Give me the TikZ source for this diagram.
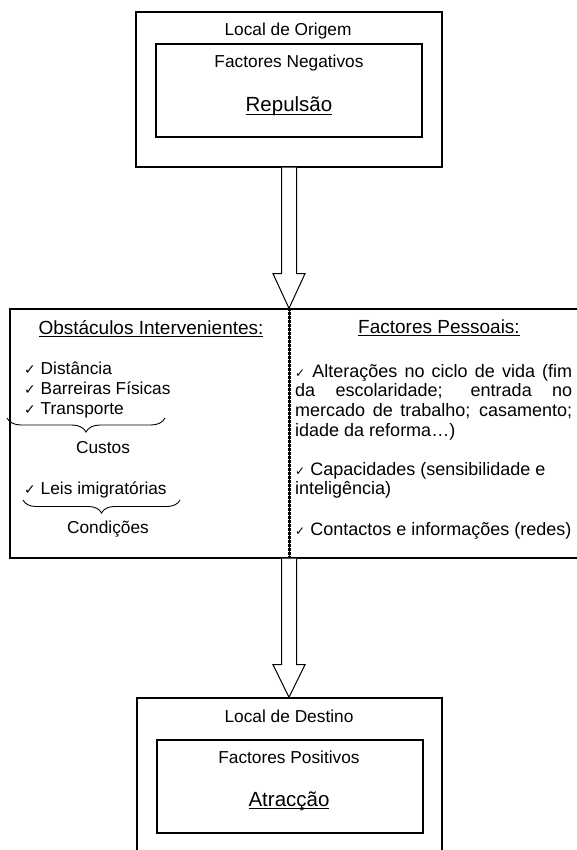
\documentclass[tikz,border=0pt]{standalone}
\usepackage{fontspec}
\setmainfont{Liberation Sans}
\newfontfamily\symf{DejaVu Sans}
\usetikzlibrary{decorations.pathreplacing,calc}
\newcommand\chk{{\symf\fontsize{14}{14}\selectfont ✓}}
\newcommand\chks{{\symf\fontsize{12}{12}\selectfont ✓}}
\newcommand\myul[1]{\setbox0\hbox{#1}\rlap{\rule[-3.4pt]{\wd0}{1.1pt}}\box0}
\tolerance=10000 \hbadness=10000
\begin{document}
\begin{tikzpicture}[x=1pt,y=-1pt,
  box/.style={draw, line width=1.3pt, inner sep=0},
  blk/.style={draw, line width=1pt, fill=white, line join=miter},
  txt/.style={inner sep=0, anchor=base, font=\fontsize{17.3}{20}\selectfont},
  txtl/.style={inner sep=0, anchor=base west, font=\fontsize{17.3}{20}\selectfont},
  rtxt/.style={inner sep=0, anchor=north west, font=\fontsize{18}{19.7}\selectfont},
  head/.style={inner sep=0, anchor=base, font=\fontsize{19}{22}\selectfont},
  big/.style={inner sep=0, anchor=base, font=\fontsize{20.5}{24}\selectfont},
  brc/.style={decorate, decoration={brace, amplitude=14pt, mirror}, line width=0.9pt}]
\useasboundingbox (0,0) rectangle (577,850);
% top
\node[box, minimum width=306pt, minimum height=155pt] (orig) at (289,89.5) {};
\node[box, minimum width=266pt, minimum height=93pt] (neg) at (289,90.5) {};
\node[txt] (lo) at (288,36) {Local de Origem};
\node[txt] (fn) at (289,68) {Factores Negativos};
\node[big] (rep) at (289,112) {\myul{Repulsão}};
% middle
\node[box, minimum width=568pt, minimum height=249pt] (mid) at (294,433.5) {};
\coordinate (dtop) at (orig.south |- mid.north);
\coordinate (dbot) at (orig.south |- mid.south);
\draw[line width=0.8pt] (dtop) -- (dbot);
\draw[line width=3pt, dash pattern=on 2.4pt off 1.6pt] (dtop) -- (dbot);
% arrow 1
\coordinate (a1) at (orig.south);
\draw[blk] ($(a1)+(-7.5,0)$) -- ($(a1)+(-7.5,106)$) -- ($(a1)+(-16,106)$) -- (dtop)
  -- ($(a1)+(16,106)$) -- ($(a1)+(7.5,106)$) -- ($(a1)+(7.5,0)$);
% left panel
\node[head] (obs) at (151,334) {\myul{Obstáculos Intervenientes:}};
\node[txtl] (dist) at (24,374) {\chk\ Distância};
\node[txtl] (barr) at (24,394) {\chk\ Barreiras Físicas};
\node[txtl] (trans) at (24,414) {\chk\ Transporte};
\coordinate (b1a) at (7,418);
\coordinate (b1b) at (165,418);
\draw[brc] (b1a) -- (b1b);
\node[txt] (cust) at (103,453) {Custos};
\node[txtl] (leis) at (24,494) {\chk\ Leis imigratórias};
\coordinate (b2a) at (23,500);
\coordinate (b2b) at (180,500);
\draw[brc, decoration={amplitude=13pt}] (b2a) -- (b2b);
\node[txt] (cond) at (108,533) {Condições};
% right panel
\node[head] (fp) at (439,333) {\myul{Factores Pessoais:}};
\node[rtxt, text width=277pt, align=justify] (alt) at (295,361)
  {\rule{0pt}{16pt}\chks\ Alterações no ciclo de vida (fim\linebreak da escolaridade; entrada no\linebreak mercado de trabalho; casamento;\linebreak idade da reforma…)};
\node[rtxt, align=left] (cap) at (295,459)
  {\rule{0pt}{16pt}\chks\ Capacidades (sensibilidade e\\inteligência)};
\node[rtxt, anchor=base west] (cont) at (295,535) {\chks\ Contactos e informações (redes)};
% bottom
\node[box, minimum width=305pt, minimum height=157pt] (dest) at (289.5,776.5) {};
\node[box, minimum width=266pt, minimum height=93pt] (pos) at (290,786.5) {};
\node[txt] (ld) at (289,722) {Local de Destino};
\node[txt] (fpo) at (289,763) {Factores Positivos};
\node[big] (atr) at (289,806) {\myul{Atracção}};
% arrow 2
\coordinate (a2) at (dbot);
\draw[blk] ($(a2)+(-7.5,0)$) -- ($(a2)+(-7.5,106)$) -- ($(a2)+(-16,106)$) -- (a2 |- dest.north)
  -- ($(a2)+(16,106)$) -- ($(a2)+(7.5,106)$) -- ($(a2)+(7.5,0)$);
\end{tikzpicture}
\end{document}
